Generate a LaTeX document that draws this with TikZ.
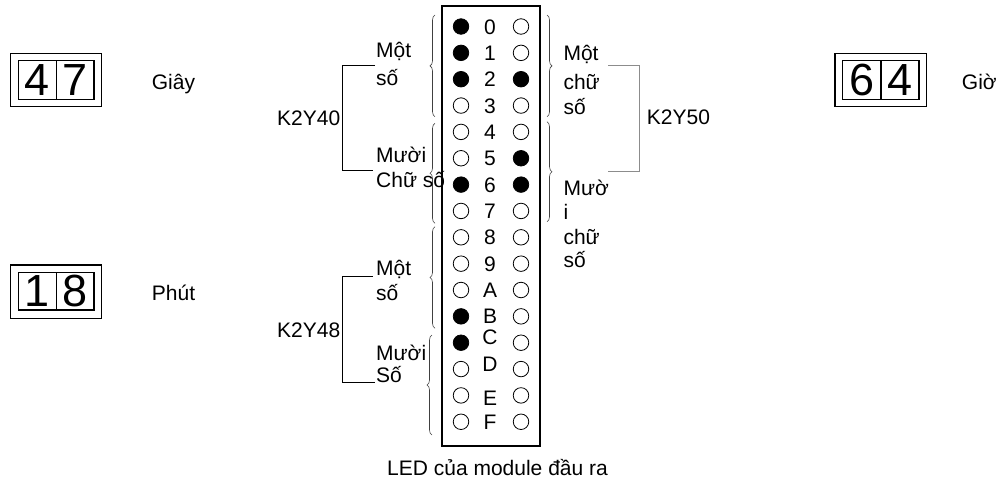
\documentclass[tikz,border=0pt]{standalone}
\usepackage{fontspec}
\setmainfont{Liberation Sans}
\usetikzlibrary{decorations.pathreplacing}
\begin{document}
\begin{tikzpicture}[x=1pt,y=-1pt,
  lbl/.style={anchor=base west,inner sep=0pt,font=\fontsize{21}{25}\selectfont},
  num/.style={anchor=base,inner sep=0pt,font=\fontsize{21}{25}\selectfont},
  dig/.style={anchor=base,inner sep=0pt,font=\fontsize{45}{45}\selectfont},
  led/.style={circle,draw=black,line width=0.8pt,minimum size=15.5pt,inner sep=0pt},
  ledon/.style={led,fill=black},
  ledoff/.style={led,fill=white},
  brk/.style={line width=0.9pt,draw=black},
  brkg/.style={line width=0.9pt,draw=black!45},
  bracedec/.style={decorate,decoration={brace,amplitude=5pt},line width=0.6pt,draw=black!75}]
\useasboundingbox (0,0) rectangle (1008,480);

% digit displays
\draw[line width=1.2pt] (10.7,53.3) rectangle (101.7,106.7);
\draw[line width=1.1pt] (18.3,60.7) rectangle (94,99.3);
\draw[line width=1.1pt] (56.7,60.7) -- (56.7,99.3);
\node[dig] (d47a) at (37.5,95) {4};
\node[dig] (d47b) at (75.3,95) {7};
\node[lbl] (giay) at (151.7,89) {Giây};

\draw[line width=1.2pt] (10.7,265) rectangle (101.7,318.3);
\draw[line width=1.1pt] (18.3,272.3) rectangle (94,310);
\draw[line width=1.1pt] (56.7,272.3) -- (56.7,310);
\node[dig] (d18a) at (37.5,306.7) {1};
\node[dig] (d18b) at (75.3,306.7) {8};
\node[lbl] (phut) at (151.7,300.5) {Phút};

\draw[line width=1.2pt] (835,53.3) rectangle (926.7,106.7);
\draw[line width=1.1pt] (842.3,60.7) rectangle (919,99.3);
\draw[line width=1.1pt] (881,60.7) -- (881,99.3);
\node[dig] (d64a) at (861.7,95) {6};
\node[dig] (d64b) at (900,95) {4};
\node[lbl] (gio) at (961.7,89) {Giờ};

% LED box
\draw[line width=1.3pt] (442,6) rectangle (540,446);
\foreach \t/\l/\r [count=\i from 0] in {0/1/0,1/1/0,2/1/1,3/0/0,4/0/0,5/0/1,6/1/1,7/0/0,8/0/0,9/0/0,A/0/0,B/1/0,C/1/0,D/0/0,E/0/0,F/0/0}{
  \pgfmathsetmacro{\yy}{26.5+26.35*\i}
  \ifnum\l=1 \node[ledon] (L\i) at (461,\yy) {}; \else \node[ledoff] (L\i) at (461,\yy) {}; \fi
  \ifnum\r=1 \node[ledon] (R\i) at (521,\yy) {}; \else \node[ledoff] (R\i) at (521,\yy) {}; \fi
}
\foreach \t [count=\i from 0] in {0,1,2,3,4,5,6,7,8,9,A,B}{
  \pgfmathsetmacro{\yy}{26.5+26.35*\i+7.5}
  \node[num] (T\i) at (490,\yy) {\t};
}
\node[num] (T12) at (490,344) {C};
\node[num] (T13) at (490,371) {D};
\node[num] (T14) at (490,405.5) {E};
\node[num] (T15) at (490,429.5) {F};

% braces left
\draw[bracedec] (435,116.7) -- (435,15);
\draw[bracedec] (435,223.3) -- (435,123.3);
\draw[bracedec] (435,328.3) -- (435,226.7);
\draw[bracedec] (432,435) -- (432,335);
% braces right
\draw[bracedec] (547,15) -- (547,116.7);
\draw[bracedec] (547,121.7) -- (547,221.7);

% left labels top
\node[lbl] (mot1) at (376,57.5) {Một};
\node[lbl] (so1) at (376,85.5) {số};
\node[lbl] (muoi1) at (376,162.5) {Mười};
\node[lbl] (chuso1) at (376,187.5) {Chữ số};
\node[lbl] (k40) at (277,125.5) {K2Y40};
\coordinate (a1) at (375,65.7);
\coordinate (a2) at (373.3,170.7);
\draw[brk] (a1) -- (342.7,65.7) -- (342.7,170.7) -- (a2);

% left labels bottom
\node[lbl] (mot2) at (376,275.5) {Một};
\node[lbl] (so2) at (376,300.5) {số};
\node[lbl] (muoi2) at (376,360.5) {Mười};
\node[lbl] (so3) at (376,382.5) {Số};
\node[lbl] (k48) at (277,337.5) {K2Y48};
\coordinate (b1) at (373,276.7);
\coordinate (b2) at (375,382.3);
\draw[brk] (b1) -- (342.7,276.7) -- (342.7,382.3) -- (b2);

% right labels
\node[lbl] (mot3) at (563.3,60.5) {Một};
\node[lbl] (chu3) at (563.3,89) {chữ};
\node[lbl] (so4) at (563.3,114) {số};
\node[lbl] (muo4) at (563.3,195.5) {Mườ};
\node[lbl] (i4) at (563.3,219) {i};
\node[lbl] (chu4) at (563.3,244) {chữ};
\node[lbl] (so5) at (563.3,267) {số};
\node[lbl] (k50) at (646.7,124) {K2Y50};
\coordinate (c1) at (608.3,65.7);
\coordinate (c2) at (608.3,171);
\draw[brkg] (c1) -- (639,65.7) -- (639,171) -- (c2);

\node[lbl] (ledlbl) at (387,475) {LED của module đầu ra};
\end{tikzpicture}
\end{document}
